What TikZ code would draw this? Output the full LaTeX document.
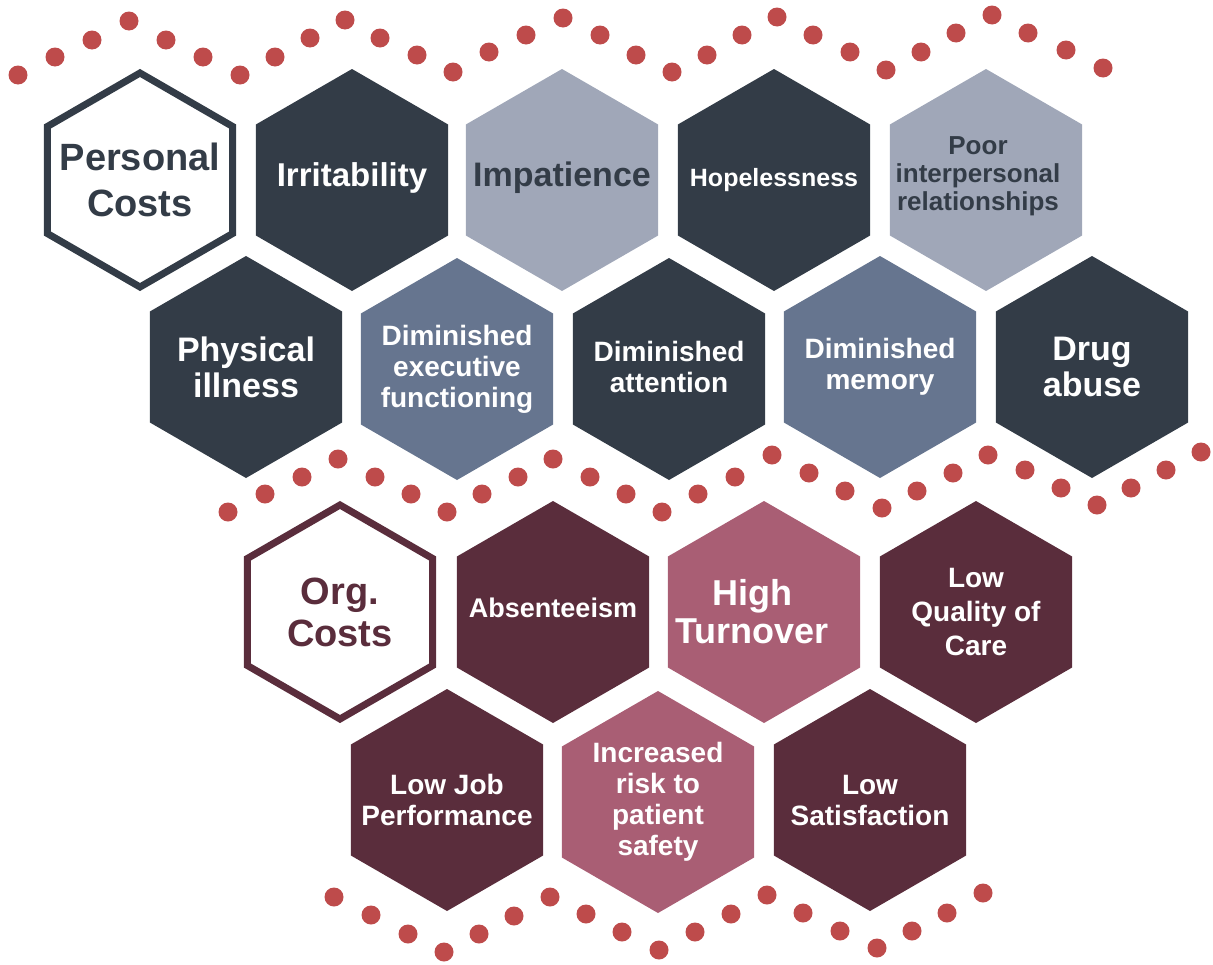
\documentclass[tikz,border=0pt]{standalone}
\usepackage{fontspec}
\setmainfont{Liberation Sans}
\definecolor{navy}{HTML}{333C47}
\definecolor{lgrey}{HTML}{A0A7B8}
\definecolor{mgrey}{HTML}{66758F}
\definecolor{maroon}{HTML}{5A2D3C}
\definecolor{pink}{HTML}{A95E74}
\definecolor{dotred}{HTML}{BE4B4B}
\tikzset{
 htext/.style={inner sep=0pt, align=center, font=\bfseries, text=white},
 hexline/.style={line width=7pt, fill=white, line join=miter},
 dotc/.style={fill=dotred}
}
\newcommand{\hexfill}[3]{\fill[#3] (#1,#2) +(90:111) -- +(150:111) -- +(210:111) -- +(270:111) -- +(330:111) -- +(30:111) -- cycle;}
\newcommand{\hexring}[3]{\draw[hexline,draw=#3] (#1,#2) +(90:107) -- +(150:107) -- +(210:107) -- +(270:107) -- +(330:107) -- +(30:107) -- cycle;}
\begin{document}
\begin{tikzpicture}[x=1pt,y=-1pt]
\useasboundingbox (0,0) rectangle (1213,964);
% dots
\foreach \x/\y in {18/75,55/57,92/40,129/21,166/40,203/57,240/75,275/57,310/38,345/20,380/38,417/55,453/72,489/52,526/35,563/18,600/35,636/55,672/72,707/55,742/35,777/17,813/35,850/52,886/70,921/52,956/33,992/15,1028/33,1066/50,1103/68,
228/512,265/494,302/477,338/459,375/477,411/494,447/512,482/494,518/477,553/459,590/477,626/494,662/512,698/494,735/477,772/455,809/473,845/491,882/508,917/491,953/473,988/455,1025/470,1061/488,1097/505,1131/488,1166/470,1201/452,
334/897,371/915,408/934,444/952,479/934,514/916,550/897,586/914,622/932,659/950,695/932,731/914,767/895,803/913,840/931,877/948,912/931,947/913,983/893}
 \fill[dotc] (\x,\y) circle (9.5);
% hexagons
\hexring{140}{180}{navy}
\hexfill{352}{180}{navy}
\hexfill{562}{180}{lgrey}
\hexfill{774}{180}{navy}
\hexfill{986}{180}{lgrey}
\hexfill{246}{367}{navy}
\hexfill{457}{369}{mgrey}
\hexfill{669}{369}{navy}
\hexfill{880}{367}{mgrey}
\hexfill{1092}{367}{navy}
\hexring{340}{612}{maroon}
\hexfill{553}{612}{maroon}
\hexfill{764}{612}{pink}
\hexfill{976}{612}{maroon}
\hexfill{447}{800}{maroon}
\hexfill{658}{802}{pink}
\hexfill{870}{800}{maroon}
% texts
\node[htext, text=navy, font=\bfseries\fontsize{38}{46}\selectfont] (pc) at (140,180) {Personal\\Costs};
\node[htext, font=\bfseries\fontsize{33}{38}\selectfont] (irr) at (352,178) {Irritability};
\node[htext, text=navy, font=\bfseries\fontsize{34}{38}\selectfont] (imp) at (562,178) {Impatience};
\node[htext, font=\bfseries\fontsize{25}{30}\selectfont] (hop) at (774,180) {Hopelessness};
\node[htext, text=navy, font=\bfseries\fontsize{26}{28}\selectfont] (poor) at (978,176) {Poor\\interpersonal\\relationships};
\node[htext, font=\bfseries\fontsize{34}{36}\selectfont] (phy) at (246,367) {Physical\\illness};
\node[htext, font=\bfseries\fontsize{28}{31}\selectfont] (exe) at (457,369) {Diminished\\executive\\functioning};
\node[htext, font=\bfseries\fontsize{28}{31}\selectfont] (att) at (669,367) {Diminished\\attention};
\node[htext, font=\bfseries\fontsize{28}{31}\selectfont] (mem) at (880,367) {Diminished\\memory};
\node[htext, font=\bfseries\fontsize{34}{36}\selectfont] (drug) at (1092,367) {Drug\\abuse};
\node[htext, text=maroon, font=\bfseries\fontsize{38}{42}\selectfont] (oc) at (340,612) {Org.\\Costs};
\node[htext, font=\bfseries\fontsize{27}{30}\selectfont] (abs) at (553,608) {Absenteeism};
\node[htext, font=\bfseries\fontsize{36}{38}\selectfont] (turn) at (752,612) {High\\Turnover};
\node[htext, font=\bfseries\fontsize{28}{34}\selectfont] (qual) at (976,612) {Low\\Quality of\\Care};
\node[htext, font=\bfseries\fontsize{28}{31}\selectfont] (job) at (447,800) {Low Job\\Performance};
\node[htext, font=\bfseries\fontsize{28}{31}\selectfont] (risk) at (658,802) {Increased\\risk to\\patient\\safety};
\node[htext, font=\bfseries\fontsize{28}{31}\selectfont] (sat) at (870,800) {Low\\Satisfaction};
\end{tikzpicture}
\end{document}
